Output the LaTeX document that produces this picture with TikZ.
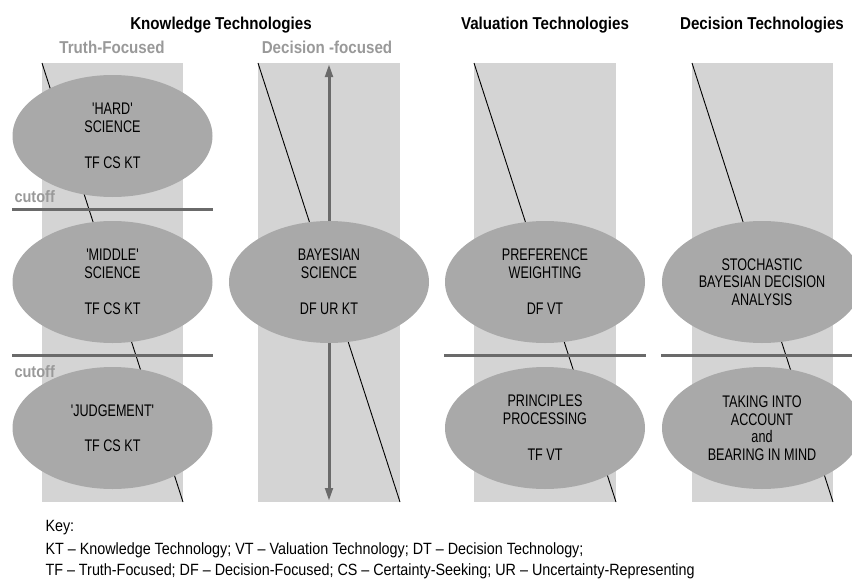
\documentclass[tikz,border=0pt]{standalone}
\usepackage{fontspec}
\setmainfont{Liberation Sans}[FakeStretch=0.88]
\newfontfamily\blobfont{Liberation Sans}[FakeStretch=0.75]
\usetikzlibrary{shapes.geometric,arrows.meta}
\definecolor{colbg}{HTML}{D4D4D4}
\definecolor{blobfill}{HTML}{A9A9A9}
\definecolor{bardark}{HTML}{6A6A6A}
\definecolor{subgray}{HTML}{999999}
\begin{document}
\begin{tikzpicture}[x=1pt,y=1pt,
            blob/.style={ellipse,fill=blobfill,minimum width=200,minimum height=122,inner sep=0pt,align=center,font=\blobfont\fontsize{16.8}{17.5}\selectfont},
            heading/.style={anchor=base,font=\bfseries\fontsize{17.2}{19}\selectfont},
            subheading/.style={heading,text=subgray},
            cutlabel/.style={anchor=base west,text=subgray,font=\bfseries\fontsize{16.5}{18}\selectfont},
            cutbar/.style={bardark,line width=3pt},
            keyline/.style={anchor=base west,font=\fontsize{16.3}{18}\selectfont}]
            \useasboundingbox (0,0) rectangle (852,-581);
            \fill [colbg] (42,-63) rectangle (183,-502);
            \fill [colbg] (258,-63) rectangle (400,-502);
            \fill [colbg] (474,-63) rectangle (616,-502);
            \fill [colbg] (692,-63) rectangle (833,-502);
            \draw [black,line width=0.9pt] (42,-63) -- (183,-502);
            \draw [black,line width=0.9pt] (258,-63) -- (400,-502);
            \draw [black,line width=0.9pt] (474,-63) -- (616,-502);
            \draw [black,line width=0.9pt] (692,-63) -- (833,-502);
            \coordinate (btop) at (329,-64);
            \coordinate (bbot) at (329,-501);
            \draw [bardark,line width=3pt,{Triangle[length=13pt,width=7.5pt]}-{Triangle[length=13pt,width=7.5pt]}] (btop) -- (bbot);
            \draw [cutbar] (12,-209) -- (213,-209);
            \draw [cutbar] (12,-355) -- (213,-355);
            \draw [cutbar] (444,-355) -- (646,-355);
            \draw [cutbar] (661,-355) -- (852,-355);
            \node [heading] (kt) at (221,-29) {Knowledge Technologies};
            \node [heading] (vt) at (545,-29) {Valuation Technologies};
            \node [heading] (dt) at (762,-29) {Decision Technologies};
            \node [subheading] (tf) at (112,-53) {Truth-Focused};
            \node [subheading] (df) at (327,-53) {Decision -focused};
            \node [cutlabel] (cut1) at (11,-202) {cutoff};
            \node [cutlabel] (cut2) at (11,-377) {cutoff};
            \node [blob] (hard) at (112.5,-136) {'HARD'\\SCIENCE\\[19pt]TF CS KT};
            \node [blob] (middle) at (112.5,-282) {'MIDDLE'\\SCIENCE\\[19pt]TF CS KT};
            \node [blob] (judge) at (112.5,-428) {'JUDGEMENT'\\[18pt]TF CS KT};
            \node [blob] (bayes) at (329,-282) {BAYESIAN\\SCIENCE\\[19pt]DF UR KT};
            \node [blob] (pref) at (545,-282) {PREFERENCE\\WEIGHTING\\[19pt]DF VT};
            \node [blob] (princ) at (545,-428) {PRINCIPLES\\PROCESSING\\[19pt]TF VT};
            \node [blob] (stoch) at (762,-282) {STOCHASTIC\\BAYESIAN DECISION\\ANALYSIS};
            \node [blob] (taking) at (762,-428) {TAKING INTO\\ACCOUNT\\and\\BEARING IN MIND};
            \node [keyline] (key) at (42,-531) {Key:};
            \node [keyline] (key1) at (42,-554) {KT – Knowledge Technology; VT – Valuation Technology; DT – Decision Technology;};
            \node [keyline] (key2) at (42,-575) {TF – Truth-Focused; DF – Decision-Focused; CS – Certainty-Seeking; UR – Uncertainty-Representing};
        \end{tikzpicture}
\end{document}
